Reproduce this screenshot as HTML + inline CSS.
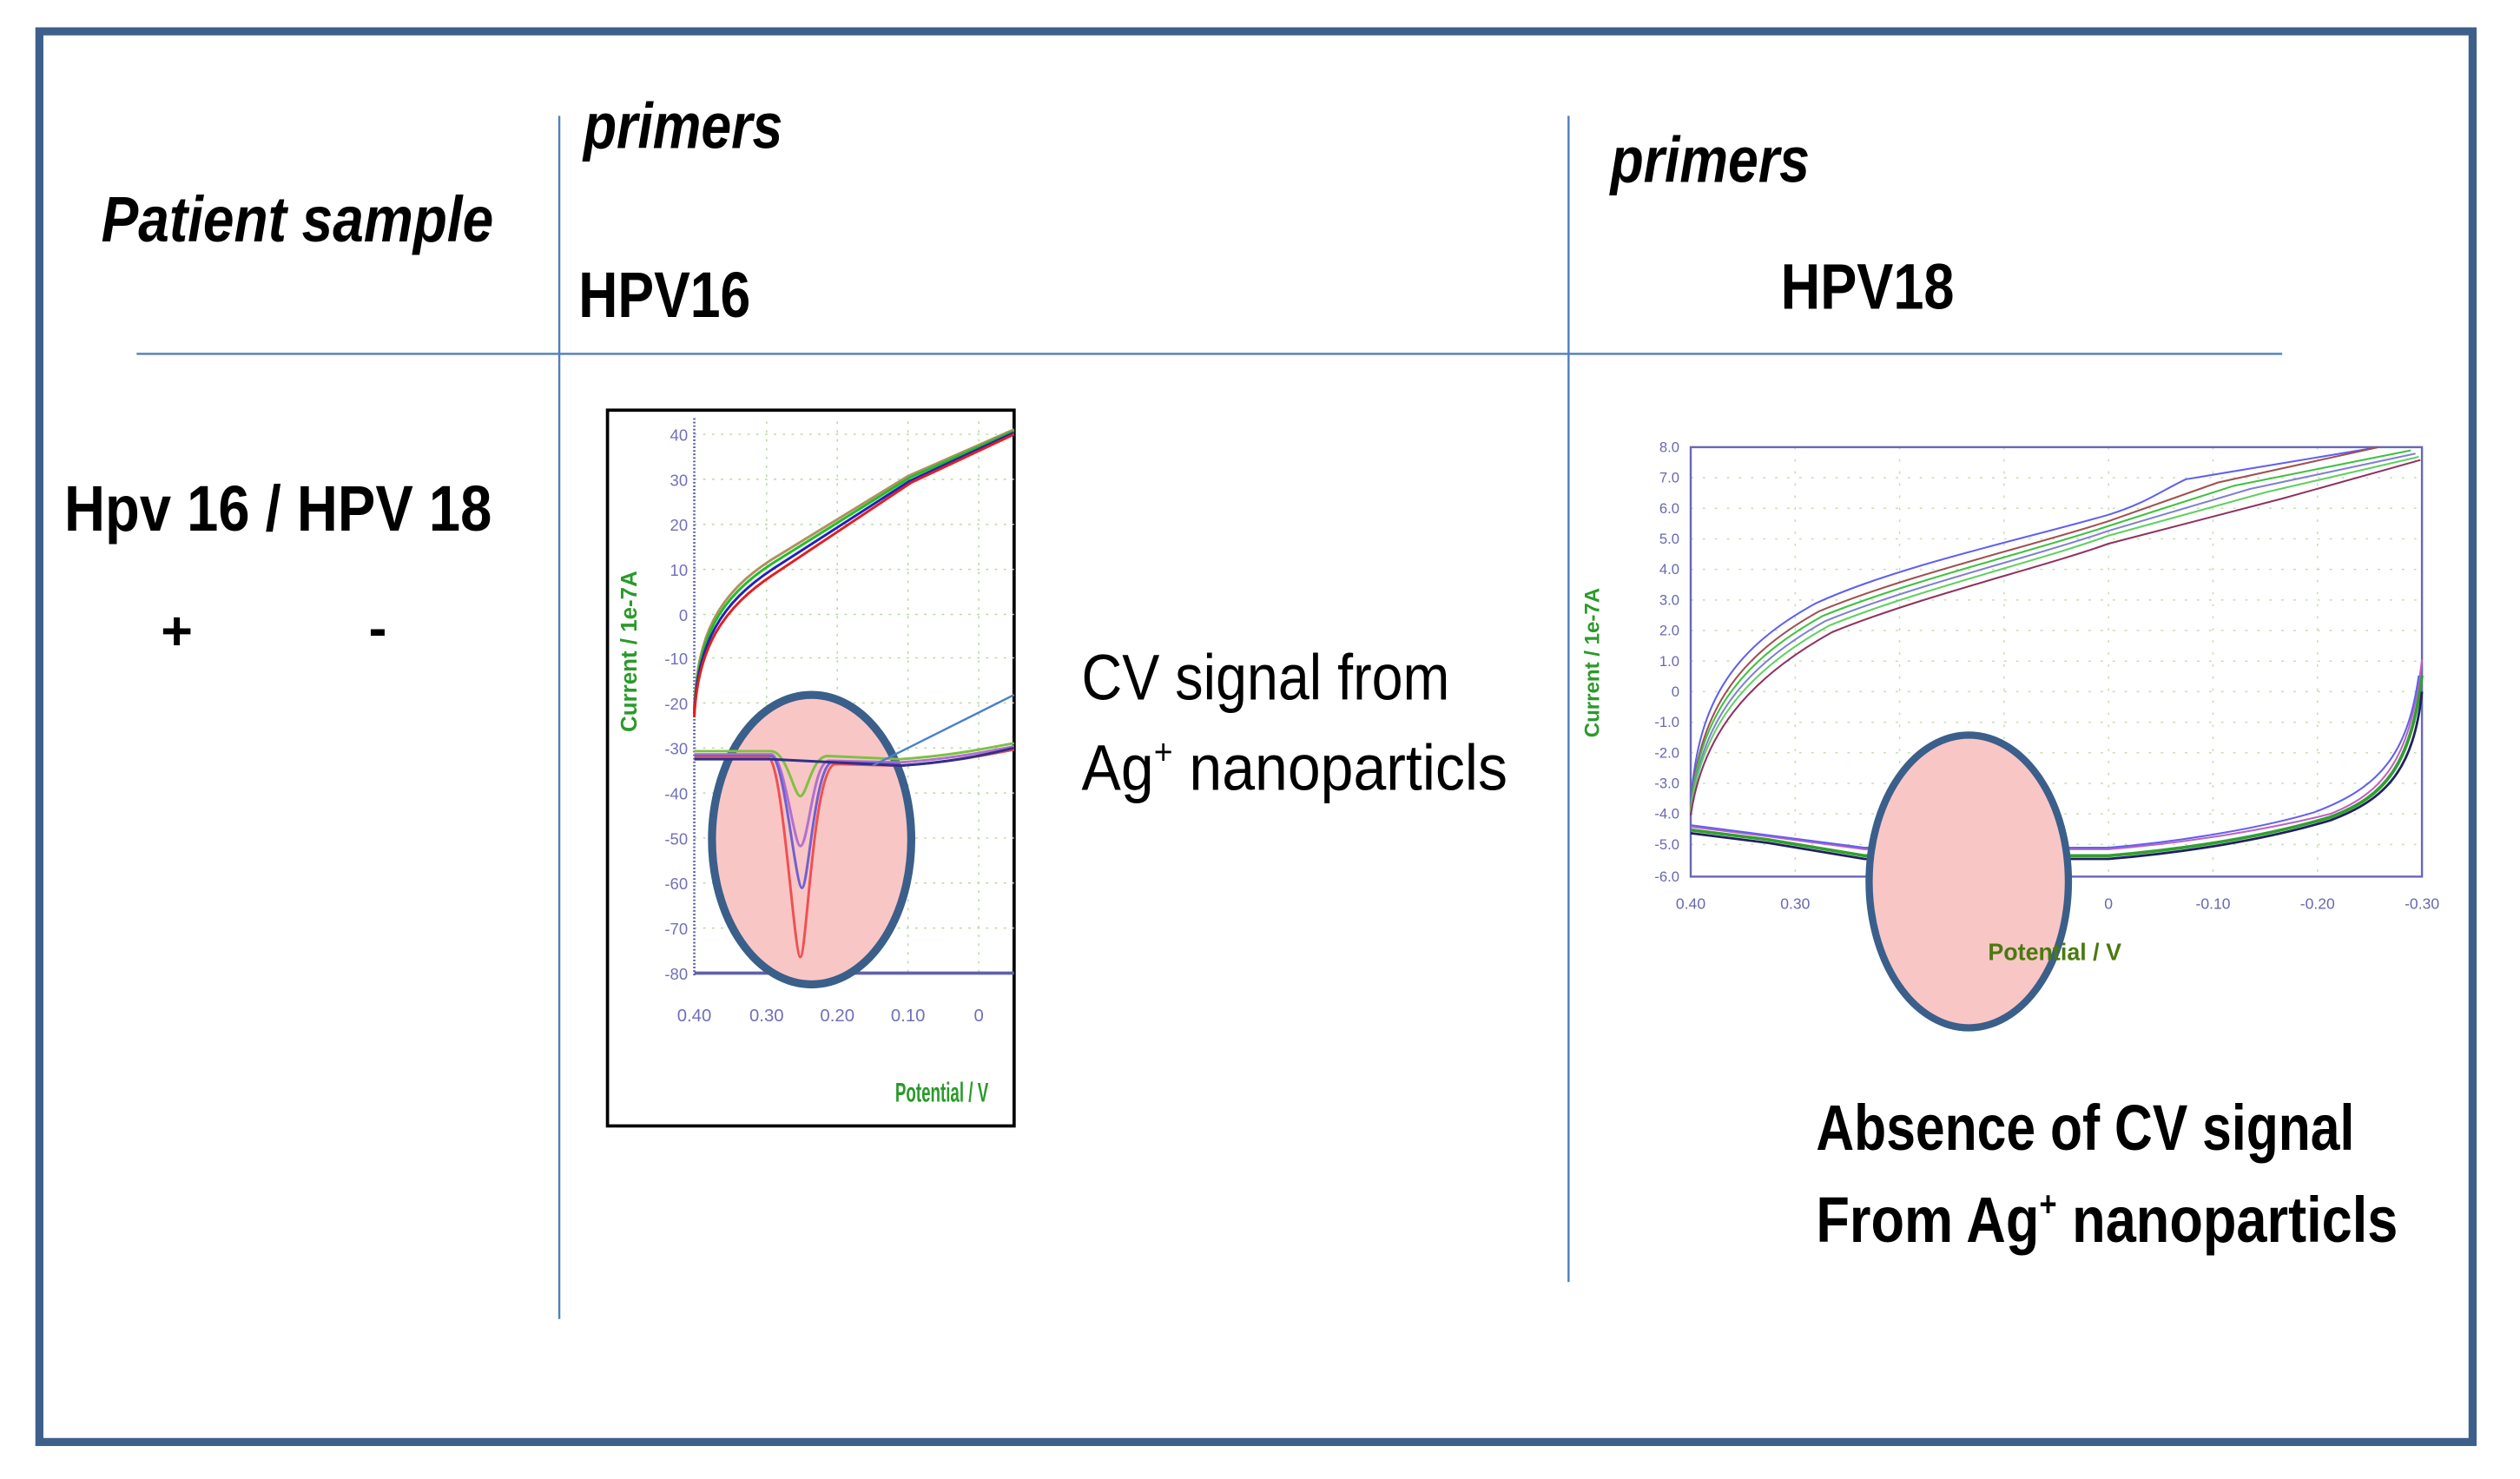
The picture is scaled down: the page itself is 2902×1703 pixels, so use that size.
<!DOCTYPE html>
<html><head><meta charset="utf-8"><style>
html,body{margin:0;padding:0;background:#fff;}
svg{display:block;}
text{font-family:"Liberation Sans Narrow","Liberation Sans",sans-serif;}
</style></head><body>
<svg width="2902" height="1703" viewBox="0 0 1568 919.5" preserveAspectRatio="none" xmlns="http://www.w3.org/2000/svg">
<rect x="0" y="0" width="1568" height="920" fill="#fff"/>
<rect x="24.5" y="19.5" width="1514" height="877" fill="none" stroke="#3d5f8c" stroke-width="5"/>
<line x1="85" y1="220" x2="1420" y2="220" stroke="#4f7fc0" stroke-width="1.3"/>
<line x1="348" y1="72" x2="348" y2="820" stroke="#4f7fc0" stroke-width="1.3"/>
<line x1="976" y1="72" x2="976" y2="797" stroke="#4f7fc0" stroke-width="1.3"/>

<text x="63" y="150" font-size="40" font-style="italic" font-weight="bold" textLength="244" lengthAdjust="spacingAndGlyphs">Patient sample</text>
<text x="363" y="92" font-size="40" font-style="italic" font-weight="bold" textLength="124" lengthAdjust="spacingAndGlyphs">primers</text>
<text x="360" y="197" font-size="40" font-weight="bold" textLength="107" lengthAdjust="spacingAndGlyphs">HPV16</text>
<text x="1002" y="113" font-size="40" font-style="italic" font-weight="bold" textLength="124" lengthAdjust="spacingAndGlyphs">primers</text>
<text x="1108" y="192" font-size="40" font-weight="bold" textLength="108" lengthAdjust="spacingAndGlyphs">HPV18</text>
<text x="40" y="330" font-size="40" font-weight="bold" textLength="266" lengthAdjust="spacingAndGlyphs">Hpv 16 / HPV 18</text>
<text x="110" y="404" font-size="34" font-weight="bold" text-anchor="middle">+</text>
<text x="235" y="402" font-size="34" font-weight="bold" text-anchor="middle">-</text>

<rect x="378" y="255" width="253" height="445" fill="#fff" stroke="#000" stroke-width="2"/>
<g stroke="#b8d8a0" stroke-width="0.8" stroke-dasharray="1.5,4">
<line x1="477" y1="262" x2="477" y2="605"/><line x1="521" y1="262" x2="521" y2="605"/><line x1="565" y1="262" x2="565" y2="605"/><line x1="609" y1="262" x2="609" y2="605"/>
<line x1="432" y1="270" x2="631" y2="270"/><line x1="432" y1="298" x2="631" y2="298"/><line x1="432" y1="326" x2="631" y2="326"/><line x1="432" y1="354" x2="631" y2="354"/><line x1="432" y1="382" x2="631" y2="382"/><line x1="432" y1="409" x2="631" y2="409"/><line x1="432" y1="437" x2="631" y2="437"/><line x1="432" y1="465" x2="631" y2="465"/><line x1="432" y1="493" x2="631" y2="493"/><line x1="432" y1="521" x2="631" y2="521"/><line x1="432" y1="549" x2="631" y2="549"/><line x1="432" y1="577" x2="631" y2="577"/>
</g>
<line x1="432" y1="260" x2="432" y2="607" stroke="#6060b0" stroke-width="1.5" stroke-dasharray="1,1.2"/>
<line x1="432" y1="605" x2="631" y2="605" stroke="#6060b0" stroke-width="2"/>
<g font-size="10" fill="#7070b8" text-anchor="end" font-family="Liberation Serif">
<text x="428" y="274">40</text><text x="428" y="302">30</text><text x="428" y="330">20</text><text x="428" y="358">10</text><text x="428" y="386">0</text><text x="428" y="413">-10</text><text x="428" y="441">-20</text><text x="428" y="469">-30</text><text x="428" y="497">-40</text><text x="428" y="525">-50</text><text x="428" y="553">-60</text><text x="428" y="581">-70</text><text x="428" y="609">-80</text>
</g>
<g font-size="11" fill="#7070b8" text-anchor="middle" font-family="Liberation Serif">
<text x="432" y="635">0.40</text><text x="477" y="635">0.30</text><text x="521" y="635">0.20</text><text x="565" y="635">0.10</text><text x="609" y="635">0</text>
</g>
<text transform="translate(396,405) rotate(-90)" font-size="14" font-weight="bold" fill="#2a9a2a" text-anchor="middle" font-family="Liberation Serif">Current / 1e-7A</text>
<text x="557" y="685" font-size="17" font-weight="bold" fill="#2a9a2a" textLength="58" lengthAdjust="spacingAndGlyphs" font-family="Liberation Serif">Potential / V</text>
<ellipse cx="505" cy="522" rx="62" ry="90" fill="#f9c6c6" stroke="#3a5f8a" stroke-width="5"/>
<g fill="none" stroke-width="1.6">
<path d="M432,440 C434,395 446,370 480,348 L565,296 L631,267" stroke="#b09060"/>
<path d="M432,442 C434,397 447,372 481,350 L566,297 L631,268" stroke="#20c020"/>
<path d="M432,444 C434,400 448,375 482,353 L566,299 L631,269" stroke="#2020c0"/>
<path d="M432,446 C434,403 449,378 483,356 L567,300 L631,270" stroke="#e02020"/>
<path d="M432,467 L480,467 C490,468 494,495 498,495 C502,495 505,470 515,470 L560,472 C590,470 610,466 631,462" stroke="#80c040"/>
<path d="M432,469 L480,469 C488,470 494,526 498,526 C503,526 506,472 516,473 L560,474 C590,472 610,468 631,464" stroke="#b070d0"/>
<path d="M432,470 L480,470 C488,471 495,552 499,552 C503,552 507,474 518,474 L560,475" stroke="#7060d0"/>
<path d="M432,471 L478,471 C487,472 494,595 498,595 C502,595 506,475 520,475 L560,476 C590,474 610,470 631,466" stroke="#f05050"/>
<path d="M432,472 L480,472 L560,476 C590,474 610,470 631,465" stroke="#30308a"/>
</g>
<line x1="631" y1="432" x2="543" y2="476" stroke="#4a80c8" stroke-width="1.3"/>

<text x="673" y="435" font-size="40" textLength="229" lengthAdjust="spacingAndGlyphs">CV signal from</text>
<text x="673" y="491" font-size="40" textLength="265" lengthAdjust="spacingAndGlyphs">Ag<tspan font-size="22" dy="-16">+</tspan><tspan dy="16"> nanoparticls</tspan></text>

<g stroke="#c8dcb0" stroke-width="0.8" stroke-dasharray="1.5,6">
<line x1="1117" y1="278" x2="1117" y2="545"/><line x1="1182" y1="278" x2="1182" y2="545"/><line x1="1247" y1="278" x2="1247" y2="545"/><line x1="1312" y1="278" x2="1312" y2="545"/><line x1="1377" y1="278" x2="1377" y2="545"/><line x1="1442" y1="278" x2="1442" y2="545"/>
<line x1="1052" y1="297" x2="1507" y2="297"/><line x1="1052" y1="316" x2="1507" y2="316"/><line x1="1052" y1="335" x2="1507" y2="335"/><line x1="1052" y1="354" x2="1507" y2="354"/><line x1="1052" y1="373" x2="1507" y2="373"/><line x1="1052" y1="392" x2="1507" y2="392"/><line x1="1052" y1="411" x2="1507" y2="411"/><line x1="1052" y1="430" x2="1507" y2="430"/><line x1="1052" y1="449" x2="1507" y2="449"/><line x1="1052" y1="468" x2="1507" y2="468"/><line x1="1052" y1="487" x2="1507" y2="487"/><line x1="1052" y1="506" x2="1507" y2="506"/><line x1="1052" y1="525" x2="1507" y2="525"/>
</g>
<rect x="1052" y="278" width="455" height="267" fill="none" stroke="#6868b8" stroke-width="1.3"/>
<g font-size="9" fill="#6868b0" text-anchor="end" font-family="Liberation Serif">
<text x="1045" y="281">8.0</text><text x="1045" y="300">7.0</text><text x="1045" y="319">6.0</text><text x="1045" y="338">5.0</text><text x="1045" y="357">4.0</text><text x="1045" y="376">3.0</text><text x="1045" y="395">2.0</text><text x="1045" y="414">1.0</text><text x="1045" y="433">0</text><text x="1045" y="452">-1.0</text><text x="1045" y="471">-2.0</text><text x="1045" y="490">-3.0</text><text x="1045" y="509">-4.0</text><text x="1045" y="528">-5.0</text><text x="1045" y="548">-6.0</text>
</g>
<g font-size="9.5" fill="#6868b0" text-anchor="middle" font-family="Liberation Serif">
<text x="1052" y="565">0.40</text><text x="1117" y="565">0.30</text><text x="1182" y="565">0.20</text><text x="1247" y="565">0.10</text><text x="1312" y="565">0</text><text x="1377" y="565">-0.10</text><text x="1442" y="565">-0.20</text><text x="1507" y="565">-0.30</text>
</g>
<text transform="translate(995,412) rotate(-90)" font-size="13" font-weight="bold" fill="#2a9a2a" text-anchor="middle" font-family="Liberation Serif">Current / 1e-7A</text>
<g fill="none" stroke-width="1.1">
<path d="M1052,500 C1056,440 1075,405 1130,375 C1180,352 1260,335 1312,320 C1335,313 1345,305 1360,298 L1480,278" stroke="#6060f0"/>
<path d="M1052,502 C1057,445 1078,410 1132,380 C1185,358 1262,340 1312,324 L1380,300 L1480,278" stroke="#a05050"/>
<path d="M1052,503 C1057,448 1080,413 1134,383 C1188,361 1264,343 1312,327 L1390,302 L1500,280" stroke="#40c040"/>
<path d="M1052,504 C1058,451 1082,416 1136,386 C1190,364 1266,346 1312,330 L1400,304 L1503,282" stroke="#8080d0"/>
<path d="M1052,505 C1058,454 1084,419 1138,389 C1192,367 1268,349 1312,333 L1410,306 L1505,284" stroke="#60d060"/>
<path d="M1052,507 C1059,458 1086,423 1140,393 C1194,371 1270,353 1312,338 L1420,310 L1506,286" stroke="#903060"/>
<path d="M1052,516 L1100,522 L1160,532 L1312,532 C1360,528 1410,520 1450,508 C1485,495 1500,475 1507,420" stroke="#30a030" stroke-width="2"/>
<path d="M1052,518 L1100,524 L1160,534 L1312,534 C1360,530 1410,522 1450,510 C1485,497 1502,478 1507,430" stroke="#202060" stroke-width="1.5"/>
<path d="M1052,514 L1100,520 L1160,528 L1312,528 C1360,524 1410,516 1450,506 C1485,492 1500,470 1507,410" stroke="#c060c0"/>
<path d="M1052,513 L1160,527 L1312,527 C1360,523 1410,514 1440,505 C1480,490 1498,470 1505,420" stroke="#6060f0"/>
</g>
<ellipse cx="1225" cy="548" rx="62" ry="91" fill="#f9c6c6" stroke="#3a5f8a" stroke-width="4.5"/>
<text x="1237" y="597" font-size="15" font-weight="bold" fill="#4a7a10" textLength="83" lengthAdjust="spacingAndGlyphs" font-family="Liberation Serif">Potential / V</text>

<text x="1130" y="715" font-size="40" font-weight="bold" textLength="335" lengthAdjust="spacingAndGlyphs">Absence of CV signal</text>
<text x="1130" y="772" font-size="40" font-weight="bold" textLength="362" lengthAdjust="spacingAndGlyphs">From Ag<tspan font-size="22" dy="-16">+</tspan><tspan dy="16"> nanoparticls</tspan></text>
</svg>
</body></html>
